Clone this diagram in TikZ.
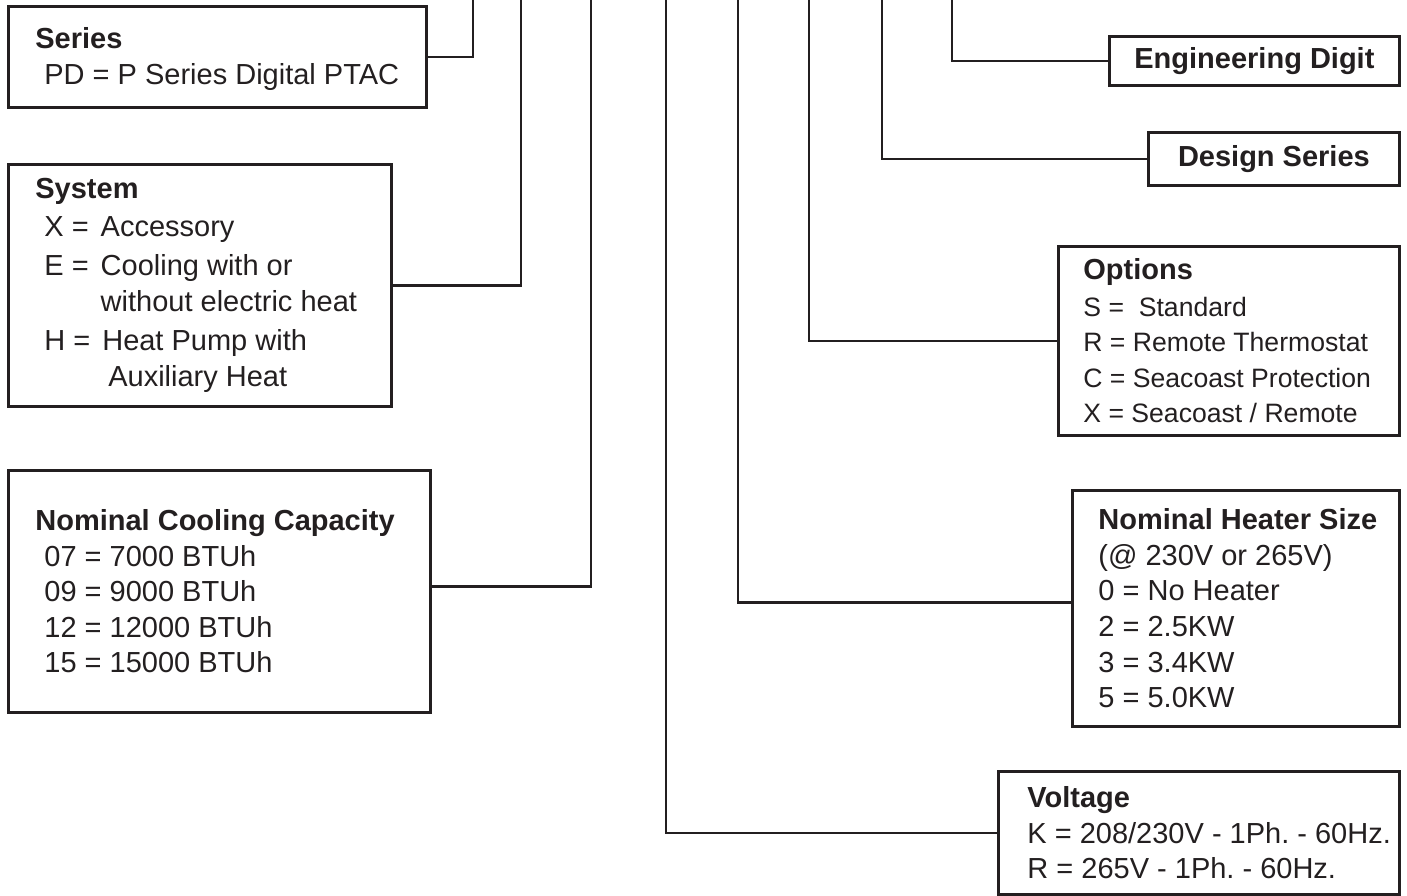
\documentclass[tikz,border=0pt]{standalone}
\usepackage{fontspec}
\setmainfont{Liberation Sans}
\usepackage{xcolor}
\usepackage{tikz}
\usetikzlibrary{positioning}
\definecolor{ink}{HTML}{231F20}
\frenchspacing
\tikzset{
  box/.style={draw=ink, line width=1.4pt, anchor=north west, inner sep=0pt},
  tag/.style={box, font=\fontsize{14.5}{17.8}\selectfont\bfseries, text=ink},
  txt/.style={align=left, inner sep=0pt, anchor=west, text=ink, font=\fontsize{14.5}{17.8}\selectfont},
  wire/.style={draw=ink, line width=1.4pt}
}

\begin{document}
\begin{tikzpicture}[x=0.5pt, y=-0.5pt]
    \useasboundingbox (0,0) rectangle (1407,895);
    % Left boxes
    \node[box, minimum width=209pt, minimum height=50.5pt] (series) at (7,5) {};
    \node[txt] (seriestxt) at ([xshift=14pt,yshift=-1pt]series.west) {{\bfseries Series}\\
      \hspace*{4.5pt}PD = P Series Digital PTAC};
    \node[box, minimum width=191.5pt, minimum height=121pt] (system) at (7,163) {};
    \node[txt] (systemtxt) at ([xshift=14pt]system.west) {{\bfseries System}\\[1pt]
      \hspace*{4.5pt}X =\hspace{6pt}Accessory\\[2pt]
      \hspace*{4.5pt}E =\hspace{6pt}Cooling with or\\
      \hspace*{4.5pt}\hphantom{E =\hspace{6pt}}without electric heat\\[2pt]
      \hspace*{4.5pt}H =\hspace{6pt}Heat Pump with\\
      \hspace*{4.5pt}\hphantom{H =\hspace{6pt}}\hspace{3pt}Auxiliary Heat};
    \node[box, minimum width=211pt, minimum height=121pt] (cool) at (7,469) {};
    \node[txt] (cooltxt) at ([xshift=14pt]cool.west) {{\bfseries Nominal Cooling Capacity}\\
      \hspace*{4.5pt}07 = 7000 BTUh\\
      \hspace*{4.5pt}09 = 9000 BTUh\\
      \hspace*{4.5pt}12 = 12000 BTUh\\
      \hspace*{4.5pt}15 = 15000 BTUh};
    % Right boxes
    \node[tag, minimum width=145pt, minimum height=24.5pt] (eng) at (1108,35) {Engineering Digit};
    \node[tag, minimum width=125.5pt, minimum height=26.5pt] (design) at (1147,131) {Design Series};
    \node[box, minimum width=170.5pt, minimum height=94.5pt] (options) at (1057,245) {};
    \node[txt, font=\fontsize{13.3}{17.8}\selectfont] (optionstxt) at ([xshift=13pt]options.west)
      {{\fontsize{14.5}{17.8}\selectfont\bfseries Options}\\[0.5pt]
      S =\ \ Standard\\
      R = Remote Thermostat\\
      C = Seacoast Protection\\
      X = Seacoast / Remote};
    \node[box, minimum width=163.5pt, minimum height=118pt] (heater) at (1071,489) {};
    \node[txt] (heatertxt) at ([xshift=13.5pt]heater.west) {{\bfseries Nominal Heater Size}\\
      (@ 230V or 265V)\\
      0 = No Heater\\
      2 = 2.5KW\\
      3 = 3.4KW\\
      5 = 5.0KW};
    \node[box, minimum width=200.5pt, minimum height=61.5pt] (volt) at (997,770) {};
    \node[txt] (volttxt) at ([xshift=15pt]volt.west) {{\bfseries Voltage}\\
      K = 208/230V - 1Ph. - 60Hz.\\
      R = 265V - 1Ph. - 60Hz.};
    % Lead lines to the top
    \coordinate (c1) at (473,-4);
    \coordinate (c2) at (521,-4);
    \coordinate (c3) at (591,-4);
    \coordinate (c4) at (666,-4);
    \coordinate (c5) at (738,-4);
    \coordinate (c6) at (809,-4);
    \coordinate (c7) at (882,-4);
    \coordinate (c8) at (952,-4);
    \draw[wire] (series.east) -| (c1);
    \draw[wire] (system.east) -| (c2);
    \draw[wire] ([yshift=2.5pt]cool.east) -| (c3);
    \draw[wire] (volt.west) -| (c4);
    \draw[wire] ([yshift=3pt]heater.west) -| (c5);
    \draw[wire] (options.west) -| (c6);
    \draw[wire] (design.west) -| (c7);
    \draw[wire] (eng.west) -| (c8);
\end{tikzpicture}
\end{document}
